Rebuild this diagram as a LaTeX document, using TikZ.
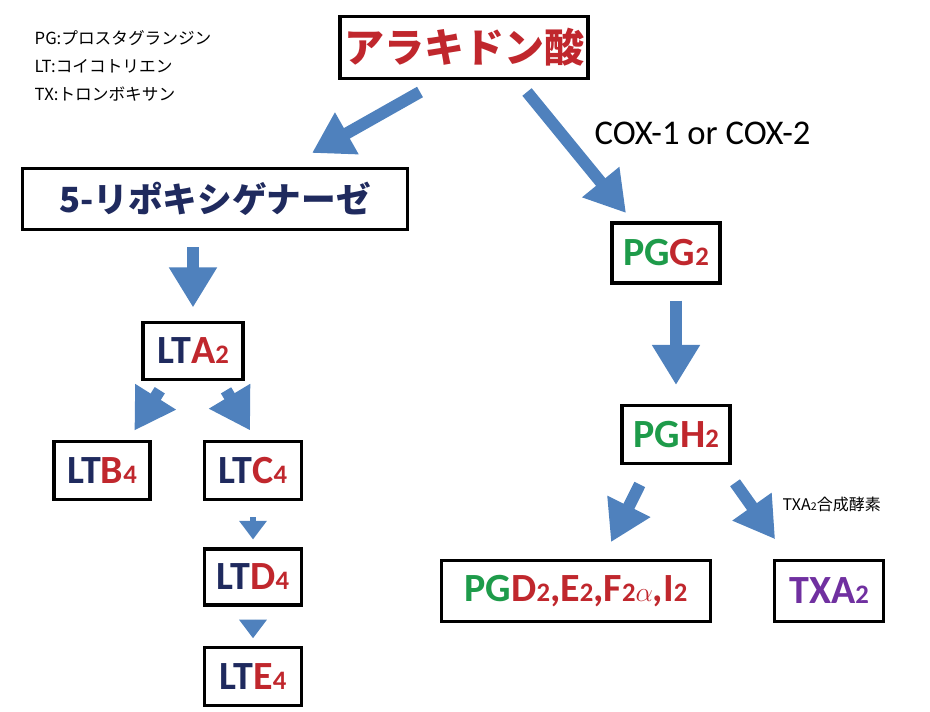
\documentclass[tikz,border=0pt]{standalone}
\usepackage{fontspec}
\setmainfont{Carlito}
\newfontfamily\jp{Noto Sans CJK JP}
\usetikzlibrary{arrows.meta}
\definecolor{nv}{HTML}{1F2A5E}
\definecolor{rd}{HTML}{C0272D}
\definecolor{gr}{HTML}{1E9B4A}
\definecolor{pu}{HTML}{7030A0}
\definecolor{ab}{HTML}{4F81BD}
\newcommand{\subn}[1]{{\fontsize{20}{20}\selectfont #1}}
\begin{document}
\begin{tikzpicture}[x=0.75pt,y=-0.75pt,
  box/.style={draw=black,line width=2.3pt,fill=white,inner sep=0pt},
  arr/.style={draw=ab,line width=9pt,-{Triangle[length=30pt,width=34pt]}},
  sarr/.style={draw=ab,line width=4.5pt,-{Triangle[length=14pt,width=20pt]}},
  big/.style={font=\bfseries\fontsize{30}{30}\selectfont}]
\useasboundingbox (0,0) rectangle (930,712);
\node[box,minimum width=186pt,minimum height=46pt] (ak) at (464,47.5) {\jp\bfseries\fontsize{30}{30}\selectfont\color{rd}アラキドン酸};
\node[box,minimum width=289pt,minimum height=46pt] (lo) at (215,199) {\jp\bfseries\fontsize{26}{26}\selectfont\color{nv}5-リポキシゲナーゼ};
\node[box,big,minimum width=75pt,minimum height=43pt] (a2) at (193,351) {\color{nv}LT\color{rd}A\subn{2}};
\node[box,big,minimum width=72pt,minimum height=44pt] (b4) at (102,470.5) {\color{nv}LT\color{rd}B\subn{4}};
\node[box,big,minimum width=73pt,minimum height=44pt] (c4) at (253,470.5) {\color{nv}LT\color{rd}C\subn{4}};
\node[box,big,minimum width=73pt,minimum height=42pt] (d4) at (253,577) {\color{nv}LT\color{rd}D\subn{4}};
\node[box,big,minimum width=73pt,minimum height=43pt] (e4) at (253,676.5) {\color{nv}LT\color{rd}E\subn{4}};
\node[box,big,minimum width=81pt,minimum height=45pt] (g2) at (666,253) {\color{gr}PG\color{rd}G\subn{2}};
\node[box,big,minimum width=81pt,minimum height=44pt] (h2) at (676,434.5) {\color{gr}PG\color{rd}H\subn{2}};
\node[box,big,minimum width=202pt,minimum height=46pt] (pd) at (576,591) {\color{gr}PG\color{rd}D\subn{2},E\subn{2},F\subn{2$\alpha$},I\subn{2}};
\node[box,big,minimum width=82pt,minimum height=46pt] (tx) at (829,591) {\color{pu}TXA\subn{2}};
\node[anchor=west,font=\fontsize{26}{26}\selectfont] (cox) at (590,133) {COX-1 or COX-2};
\node[anchor=north west,align=left,font=\jp\fontsize{12.5}{21}\selectfont] (lg) at (30,26) {PG:プロスタグランジン\\LT:コイコトリエン\\TX:トロンボキサン};
\node[anchor=west,font=\jp\fontsize{12}{12}\selectfont] (tz) at (778,504) {TXA{\fontsize{8}{8}\selectfont 2}合成酵素};
\coordinate (p1) at (420,92); \coordinate (q1) at (312,153);
\coordinate (p2) at (527,92); \coordinate (q2) at (626,213);
\draw[arr] (p1) -- (q1);
\draw[arr] (p2) -- (q2);
\draw[arr,shorten >=10pt] ([yshift=-12]lo.south -| a2.north) -- (a2.north);
\draw[arr,shorten <=8pt,shorten >=8pt] ([xshift=18]a2.south west) -- ([xshift=20]b4.north);
\draw[arr,shorten <=8pt,shorten >=8pt] ([xshift=-18]a2.south east) -- ([xshift=2]c4.north);
\draw[sarr,shorten <=12pt,shorten >=6pt] (c4.south) -- (d4.north);
\draw[sarr,shorten <=10pt,shorten >=6pt] (d4.south) -- (e4.north);
\draw[arr,shorten <=12pt,shorten >=14pt] (g2.south -| h2.north) -- (h2.north);
\draw[arr,shorten <=16pt,shorten >=14pt] ([xshift=-20]h2.south) -- ([xshift=20]pd.north);
\draw[arr,shorten <=16pt,shorten >=18pt] ([xshift=35]h2.south) -- ([xshift=-30]tx.north);
\end{tikzpicture}
\end{document}
